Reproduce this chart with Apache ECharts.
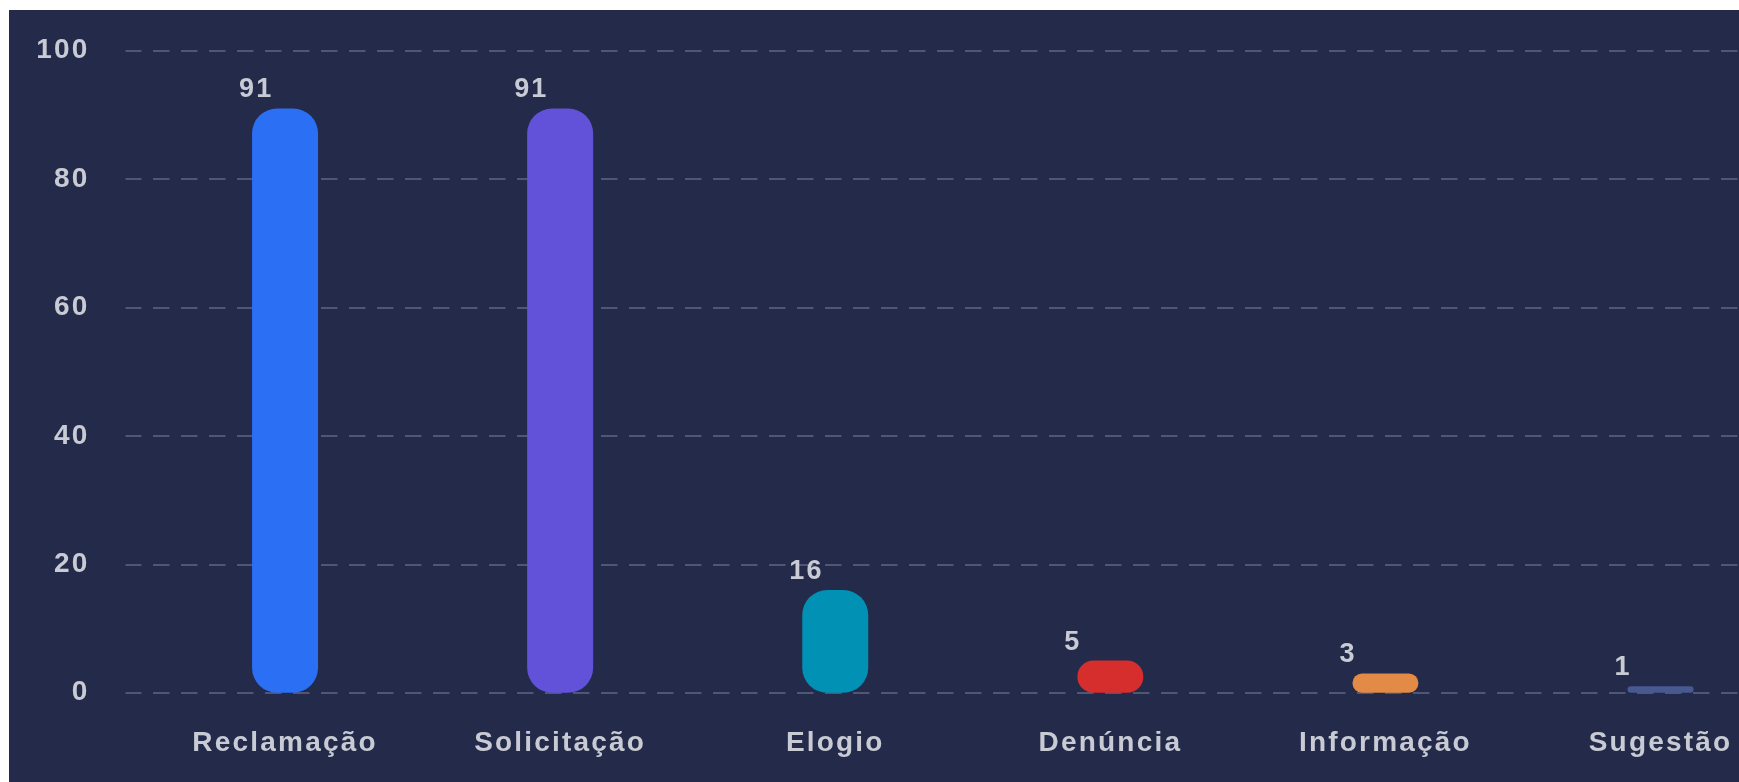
<!DOCTYPE html>
<html>
<head>
<meta charset="utf-8">
<script src="https://cdn.jsdelivr.net/npm/echarts@6/dist/echarts.min.js"></script>
<style>
  html, body { margin: 0; padding: 0; background: #ffffff; width: 1739px; height: 782px; overflow: hidden; }
  #chart { position: absolute; left: 9px; top: 10px; width: 1730px; height: 772px; }
</style>
</head>
<body>
<div id="chart"></div>
<script>
const categories = ['Reclamação', 'Solicitação', 'Elogio', 'Denúncia', 'Informação', 'Sugestão'];
const values = [91, 91, 16, 5, 3, 1];
const barColors = ['#2b6ff5', '#6152d9', '#0091b4', '#d62d2d', '#e28a46', '#485891'];
const yTicks = { min: 0, max: 100, interval: 20 };

// wider letter spacing as in the reference
(function () {
  const proto = CanvasRenderingContext2D.prototype;
  const orig = proto.fillText;
  proto.fillText = function () {
    if ('letterSpacing' in this) this.letterSpacing = '2.2px';
    return orig.apply(this, arguments);
  };
})();

const textColor = '#c8cbd4';
const gridColor = '#4f5775';
const font = '"Liberation Sans", Arial, sans-serif';

const chart = echarts.init(document.getElementById('chart'), null, { renderer: 'canvas' });
chart.setOption({
  backgroundColor: '#242a4a',
  animation: false,
  grid: { left: 138.5, top: 40.7, width: 1650.6, height: 642, containLabel: false, outerBoundsMode: 'none' },
  xAxis: {
    type: 'category',
    data: categories,
    axisLine: { show: false },
    axisTick: { show: false },
    splitLine: { show: false },
    axisLabel: { color: textColor, fontFamily: font, fontWeight: 'bold', fontSize: 28, margin: 37 }
  },
  yAxis: {
    type: 'value',
    min: yTicks.min, max: yTicks.max, interval: yTicks.interval,
    axisLine: { show: false },
    axisTick: { show: true, length: 22, lineStyle: { color: gridColor, width: 2, type: [0, 6, 16, 60] } },
    axisLabel: { color: textColor, fontFamily: font, fontWeight: 'bold', fontSize: 28, margin: 58 },
    splitLine: { show: true, lineStyle: { color: gridColor, width: 2, type: [16.5, 11.5], dashOffset: 22.5 } }
  },
  series: [{
    type: 'bar',
    barWidth: 66,
    data: values.map((v, i) => ({ value: v, itemStyle: { color: barColors[i] } })),
    itemStyle: { borderRadius: 25 },
    label: {
      show: true,
      position: [-13, -5],
      align: 'left',
      verticalAlign: 'bottom',
      color: textColor,
      fontFamily: font,
      fontWeight: 'bold',
      fontSize: 27
    }
  }]
});
</script>
</body>
</html>
